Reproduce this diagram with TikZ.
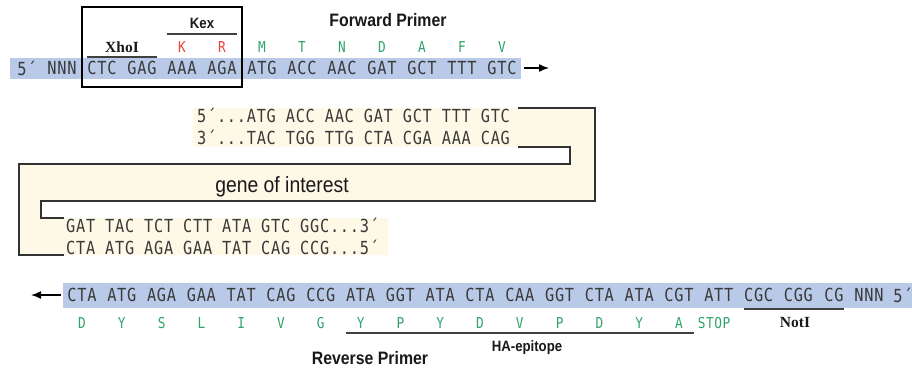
\documentclass[tikz,border=0pt]{standalone}
\usepackage{fontspec}
\setmainfont{Liberation Sans}
\newfontfamily\seqfont[FakeStretch=0.85,LetterSpace=4]{DejaVu Sans Mono}
\newfontfamily\labfont[FakeStretch=0.88]{Liberation Sans}
\newfontfamily\enzfont{Liberation Serif}
\usetikzlibrary{arrows.meta}

\definecolor{bandblue}{HTML}{B9CAE8}
\definecolor{genecream}{HTML}{FEF8E6}
\definecolor{aagreen}{HTML}{2FA36B}
\definecolor{aared}{HTML}{E8413C}
\definecolor{seqgray}{HTML}{3A3A3A}

\tikzset{
	seq/.style={inner sep=0pt, text=seqgray, font=\seqfont\fontsize{18}{18}\selectfont},
	aa/.style={inner sep=0pt, font=\seqfont\fontsize{15}{15}\selectfont},
	lab/.style={inner sep=0pt, text=black!90, font=\labfont\bfseries\fontsize{18}{18}\selectfont},
	sublab/.style={inner sep=0pt, text=black!90, font=\labfont\bfseries\fontsize{15}{15}\selectfont},
	enz/.style={inner sep=0pt, text=black!90, font=\enzfont\bfseries\fontsize{15.5}{16}\selectfont},
	bar/.style={line width=1.3pt, draw=black!75},
	outline/.style={line width=1.5pt, draw=black!80},
	strandarrow/.style={line width=1.4pt,-{Latex[length=10pt,width=8pt]}},
}

\begin{document}
\begin{tikzpicture}[x=1pt,y=-1pt]
	\useasboundingbox (0,0) rectangle (912,368);

	%forward strand
	\fill[bandblue] (10,58) rectangle (521,79);
	\draw[line width=1.2pt] (82,7) rectangle (242,87);
	\node[seq] (f5) at (27,68) {5´};
	\node[seq] (fn) at (62,68) {NNN};
	\foreach \c [count=\i from 0] in {CTC,GAG,AAA,AGA,ATG,ACC,AAC,GAT,GCT,TTT,GTC}{
		\node[seq] (f\i) at (102+40*\i,68) {\c};}
	\foreach \a [count=\i from 2] in {K,R}{
		\node[aa,text=aared] (fa\i) at (102+40*\i,47) {\a};}
	\foreach \a [count=\i from 4] in {M,T,N,D,A,F,V}{
		\node[aa,text=aagreen] (fa\i) at (102+40*\i,47) {\a};}
	\coordinate (fwdtip) at (549,68);
	\draw[strandarrow] ([xshift=7pt]f10.east) -- (fwdtip);

	\node[enz] (xhoi) at (122,47) {XhoI};
	\draw[bar] (f0.west |- 0,57) -- (f1.east |- 0,57);
	\node[sublab] (kex) at (202,23) {Kex};
	\draw[bar] (f2.west |- 0,34) -- (f3.east |- 0,34);
	\node[lab] (fwd) at (388,20) {Forward Primer};

	%gene of interest
	\fill[genecream] (193,108) -- (595,108) -- (595,201) -- (41,201) -- (41,218) -- (388,218)
		-- (388,255) -- (19,255) -- (19,164) -- (570,164) -- (570,147) -- (193,147) -- cycle;
	\draw[outline] (518,108) -- (595,108) -- (595,201) -- (41,201) -- (41,218) -- (64,218);
	\draw[outline] (518,147) -- (570,147) -- (570,164) -- (19,164) -- (19,255) -- (64,255);
	\node[seq,anchor=west] (midtop) at (197,115) {5´...ATG ACC AAC GAT GCT TTT GTC};
	\node[seq,anchor=west] (midbot) at (197,137) {3´...TAC TGG TTG CTA CGA AAA CAG};
	\node[inner sep=0pt, text=black!90, font=\labfont\fontsize{22}{22}\selectfont] (gene) at (282,187) {gene of interest};
	\node[seq,anchor=west] (lowtop) at (66,225) {GAT TAC TCT CTT ATA GTC GGC...3´};
	\node[seq,anchor=west] (lowbot) at (66,247) {CTA ATG AGA GAA TAT CAG CCG...5´};

	%reverse strand
	\fill[bandblue] (63,283) rectangle (912,308);
	\foreach \c [count=\i from 0] in {CTA,ATG,AGA,GAA,TAT,CAG,CCG,ATA,GGT,ATA,CTA,CAA,GGT,CTA,ATA,CGT,ATT,CGC,CGG}{
		\node[seq] (r\i) at (82+39.8*\i,295) {\c};}
	\node[seq] (rcg) at (834,295) {CG};
	\node[seq] (rn) at (869,295) {NNN};
	\node[seq] (r5) at (903,295) {5´};
	\foreach \a [count=\i from 0] in {D,Y,S,L,I,V,G,Y,P,Y,D,V,P,D,Y,A}{
		\node[aa,text=aagreen] (ra\i) at (82+39.8*\i,323) {\a};}
	\node[aa,text=aagreen] (stop) at (714,323) {STOP};
	\coordinate (revtip) at (31,295);
	\draw[strandarrow] ([xshift=-6pt]r0.west) -- (revtip);

	\draw[bar] (r17.west |- 0,309) -- (rcg.east |- 0,309);
	\node[enz] (noti) at (795,322) {NotI};
	\draw[bar] (r7.west |- 0,333) -- (r15.east |- 0,333);
	\node[sublab] (ha) at (527,348) {HA-epitope};
	\node[lab] (rev) at (370,358) {Reverse Primer};
\end{tikzpicture}
\end{document}
